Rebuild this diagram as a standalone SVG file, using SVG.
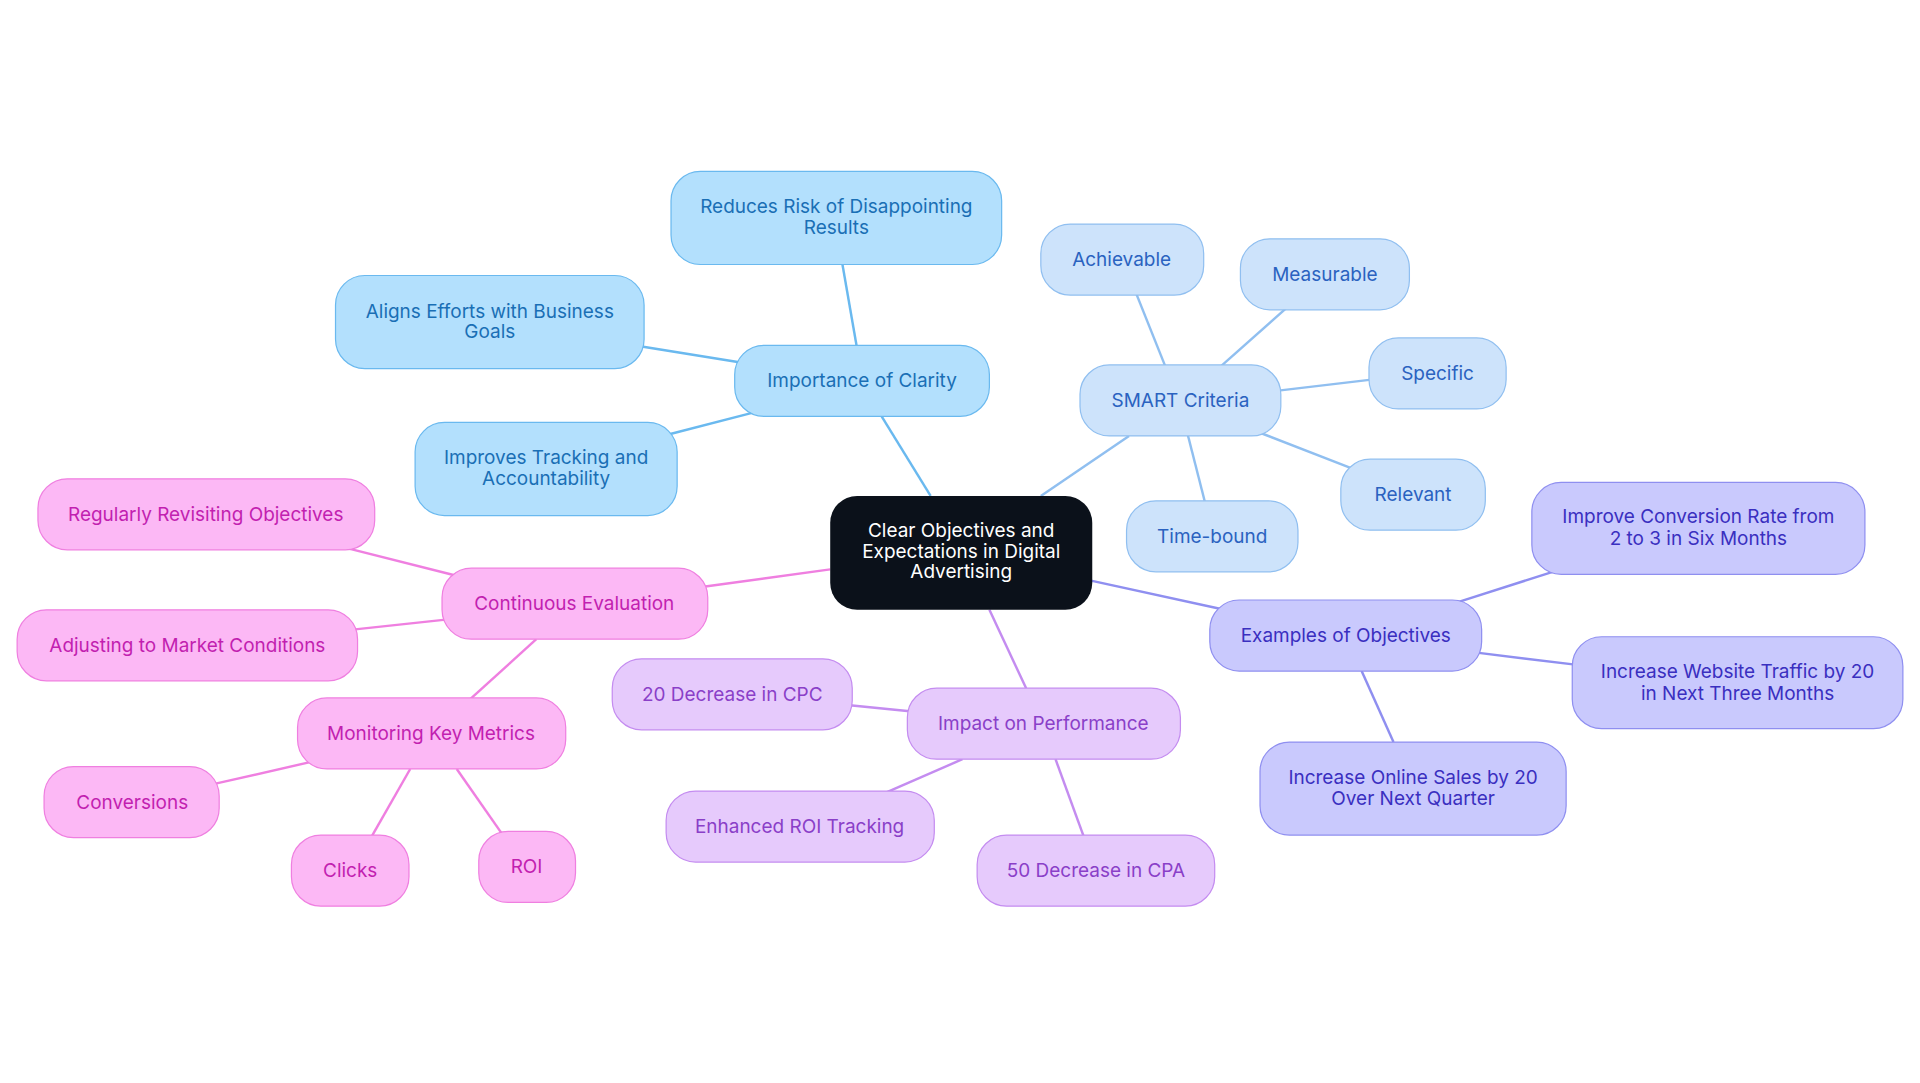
<svg xmlns="http://www.w3.org/2000/svg" width="1920" height="1083" viewBox="0 0 1920 1083">
<style>
text{font-family:Inter,"Noto Sans",sans-serif;font-size:15.5px;text-anchor:middle;dominant-baseline:central}
.b rect{fill:#b3e0fd;stroke:#6ab9ef}.b text{fill:#1a6fb5}
.s rect{fill:#cde3fb;stroke:#90bff0}.s text{fill:#2a62c0}
.e rect{fill:#c9c9fd;stroke:#8f8ff0}.e text{fill:#3a2fc0}
.i rect{fill:#e6cafc;stroke:#c48cf0}.i text{fill:#8a3fc8}
.p rect{fill:#fcb8f5;stroke:#ef7fe0}.p text{fill:#c21fb0}
rect{stroke-width:1}
line{stroke-width:2}
</style>
<rect width="1920" height="1083" fill="#fff"/>
<g transform="scale(1.2245)">
<g id="connectors">
<g stroke="#6ab9ef"><line x1="760" y1="405" x2="720" y2="340"/><line x1="700" y1="285" x2="688" y2="216"/><line x1="605" y1="296" x2="524" y2="283"/><line x1="615" y1="337" x2="545" y2="355"/></g>
<g stroke="#90bff0"><line x1="850" y1="405" x2="922" y2="356"/><line x1="952" y1="300" x2="928" y2="240"/><line x1="996" y1="300" x2="1050" y2="252"/><line x1="1044" y1="319" x2="1120" y2="310"/><line x1="1028" y1="353" x2="1105" y2="383"/><line x1="970" y1="355" x2="984" y2="410"/></g>
<g stroke="#8f8ff0"><line x1="890" y1="474" x2="1000" y2="498"/><line x1="1190" y1="492" x2="1268" y2="467"/><line x1="1206" y1="533" x2="1288" y2="543"/><line x1="1112" y1="548" x2="1138" y2="606"/></g>
<g stroke="#c48cf0"><line x1="808" y1="498" x2="838" y2="562"/><line x1="745" y1="581" x2="694" y2="576"/><line x1="786" y1="620" x2="722" y2="648"/><line x1="862" y1="620" x2="885" y2="683"/></g>
<g stroke="#ef7fe0"><line x1="678" y1="465" x2="576" y2="479"/><line x1="372" y1="470" x2="285" y2="448"/><line x1="364" y1="506" x2="290" y2="514"/><line x1="438" y1="522" x2="384" y2="571"/><line x1="255" y1="622" x2="176" y2="640"/><line x1="335" y1="628" x2="303" y2="684"/><line x1="373" y1="628" x2="410" y2="681"/></g>
</g>
<g id="center"><rect x="678" y="405" width="214" height="93" rx="22" fill="#0b111a"/><text x="785" y="433" fill="#fff">Clear Objectives and</text><text x="785" y="450" fill="#fff">Expectations in Digital</text><text x="785" y="467" fill="#fff">Advertising</text></g>
<g id="clarity" class="b"><rect x="600" y="282" width="208" height="58" rx="24"/><text x="704" y="311">Importance of Clarity</text></g>
<g id="risk" class="b"><rect x="548" y="140" width="270" height="76" rx="24"/><text x="683" y="169">Reduces Risk of Disappointing</text><text x="683" y="186">Results</text></g>
<g id="aligns" class="b"><rect x="274" y="225" width="252" height="76" rx="24"/><text x="400" y="254">Aligns Efforts with Business</text><text x="400" y="271">Goals</text></g>
<g id="tracking" class="b"><rect x="339" y="345" width="214" height="76" rx="24"/><text x="446" y="374">Improves Tracking and</text><text x="446" y="391">Accountability</text></g>
<g id="smart" class="s"><rect x="882" y="298" width="164" height="58" rx="24"/><text x="964" y="327">SMART Criteria</text></g>
<g id="achievable" class="s"><rect x="850" y="183" width="133" height="58" rx="24"/><text x="916" y="212">Achievable</text></g>
<g id="measurable" class="s"><rect x="1013" y="195" width="138" height="58" rx="24"/><text x="1082" y="224">Measurable</text></g>
<g id="specific" class="s"><rect x="1118" y="276" width="112" height="58" rx="24"/><text x="1174" y="305">Specific</text></g>
<g id="relevant" class="s"><rect x="1095" y="375" width="118" height="58" rx="24"/><text x="1154" y="404">Relevant</text></g>
<g id="timebound" class="s"><rect x="920" y="409" width="140" height="58" rx="24"/><text x="990" y="438">Time-bound</text></g>
<g id="examples" class="e"><rect x="988" y="490" width="222" height="58" rx="24"/><text x="1099" y="519">Examples of Objectives</text></g>
<g id="conv" class="e"><rect x="1251" y="394" width="272" height="75" rx="24"/><text x="1387" y="422">Improve Conversion Rate from</text><text x="1387" y="440">2 to 3 in Six Months</text></g>
<g id="traffic" class="e"><rect x="1284" y="520" width="270" height="75" rx="24"/><text x="1419" y="548">Increase Website Traffic by 20</text><text x="1419" y="566">in Next Three Months</text></g>
<g id="sales" class="e"><rect x="1029" y="606" width="250" height="76" rx="24"/><text x="1154" y="635">Increase Online Sales by 20</text><text x="1154" y="652">Over Next Quarter</text></g>
<g id="impact" class="i"><rect x="741" y="562" width="223" height="58" rx="24"/><text x="852" y="591">Impact on Performance</text></g>
<g id="cpc" class="i"><rect x="500" y="538" width="196" height="58" rx="24"/><text x="598" y="567">20 Decrease in CPC</text></g>
<g id="roitrack" class="i"><rect x="544" y="646" width="219" height="58" rx="24"/><text x="653" y="675">Enhanced ROI Tracking</text></g>
<g id="cpa" class="i"><rect x="798" y="682" width="194" height="58" rx="24"/><text x="895" y="711">50 Decrease in CPA</text></g>
<g id="continuous" class="p"><rect x="361" y="464" width="217" height="58" rx="24"/><text x="469" y="493">Continuous Evaluation</text></g>
<g id="revisit" class="p"><rect x="31" y="391" width="275" height="58" rx="24"/><text x="168" y="420">Regularly Revisiting Objectives</text></g>
<g id="adjust" class="p"><rect x="14" y="498" width="278" height="58" rx="24"/><text x="153" y="527">Adjusting to Market Conditions</text></g>
<g id="monitor" class="p"><rect x="243" y="570" width="219" height="58" rx="24"/><text x="352" y="599">Monitoring Key Metrics</text></g>
<g id="conversions" class="p"><rect x="36" y="626" width="143" height="58" rx="24"/><text x="108" y="655">Conversions</text></g>
<g id="clicks" class="p"><rect x="238" y="682" width="96" height="58" rx="24"/><text x="286" y="711">Clicks</text></g>
<g id="roi" class="p"><rect x="391" y="679" width="79" height="58" rx="24"/><text x="430" y="708">ROI</text></g>
</g>
</svg>
